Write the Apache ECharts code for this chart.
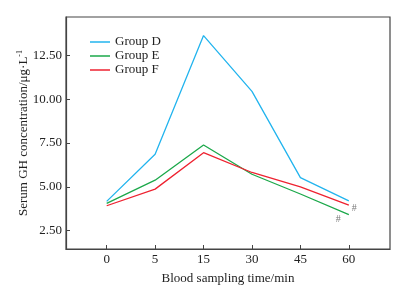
<!DOCTYPE html>
<html><head><meta charset="utf-8">
<script src="https://cdn.jsdelivr.net/npm/echarts@6/dist/echarts.min.js"></script>
<style>html,body{margin:0;padding:0;background:#fff}#c{width:411px;height:290px}</style>
</head><body><div id="c"></div>
<script>
const categories = ['0','5','15','30','45','60'];
const groupD = [4.17, 6.86, 13.64, 10.45, 5.53, 4.20];
const groupE = [4.06, 5.38, 7.39, 5.72, 4.59, 3.41];
const groupF = [3.92, 4.87, 6.95, 5.82, 5.00, 3.96];
const yTicks = [2.5, 5, 7.5, 10, 12.5];
const seriesNames = ['Group D', 'Group E', 'Group F'];
const colors = ['#22B4EE', '#1BA84A', '#EE2230'];

const font = 'Liberation Serif';
const toXY = arr => arr.map((v, i) => [i, v]);
const lastIdx = categories.length - 1;

const chart = echarts.init(document.getElementById('c'), null, {renderer: 'canvas'});
chart.setOption({
  animation: false,
  backgroundColor: '#fff',
  grid: {left: 66, right: 21, top: 17, bottom: 41, show: true, borderColor: '#444', borderWidth: 1.2, backgroundColor: 'transparent'},
  legend: {
    data: seriesNames,
    orient: 'vertical', left: 85, top: 30,
    icon: 'rect',
    itemWidth: 20, itemHeight: 1.5, itemGap: 0,
    textStyle: {fontFamily: font, fontSize: 13, color: '#222', lineHeight: 14}
  },
  xAxis: {
    type: 'value', min: -0.84, max: 5.85,
    splitLine: {show: false},
    axisLine: {onZero: false, lineStyle: {color: '#444', width: 1.2}},
    axisTick: {inside: true, length: 4, customValues: categories.map((c, i) => i), lineStyle: {color: '#444'}},
    axisLabel: {customValues: categories.map((c, i) => i), formatter: v => categories[Math.round(v)] ?? '', margin: 4,
      fontFamily: font, fontSize: 13, color: '#222'},
    name: 'Blood sampling time/min', nameLocation: 'middle', nameGap: 23, nameMoveOverlap: false,
    nameTextStyle: {fontFamily: font, fontSize: 13, color: '#222'}
  },
  yAxis: {
    type: 'value', min: 1.45, max: 14.7,
    splitLine: {show: false},
    axisLine: {show: true, onZero: false, lineStyle: {color: '#444', width: 1.2}},
    axisTick: {show: true, inside: true, length: 4, customValues: yTicks, lineStyle: {color: '#444'}},
    axisLabel: {customValues: yTicks, formatter: v => v.toFixed(2), margin: 4,
      fontFamily: font, fontSize: 13, color: '#222'},
    name: 'Serum GH concentration/μg·L{sup|-1}', nameLocation: 'middle', nameGap: 34, nameMoveOverlap: false,
    nameTextStyle: {fontFamily: font, fontSize: 13, color: '#222',
      rich: {sup: {fontFamily: font, fontSize: 8, color: '#222', verticalAlign: 'top', padding: [0,0,8,0]}}}
  },
  series: [
    {name: seriesNames[0], type: 'line', data: toXY(groupD), symbol: 'none', color: colors[0], lineStyle: {width: 1.3, color: colors[0]}},
    {name: seriesNames[1], type: 'line', data: toXY(groupE), symbol: 'none', color: colors[1], lineStyle: {width: 1.3, color: colors[1]}},
    {name: seriesNames[2], type: 'line', data: toXY(groupF), symbol: 'none', color: colors[2], lineStyle: {width: 1.3, color: colors[2]}},
    {type: 'scatter', symbolSize: 0, silent: true,
      data: [
        {value: [lastIdx, groupE[lastIdx]], label: {show: true, formatter: '#', position: [-13, 0]}},
        {value: [lastIdx, groupF[lastIdx]], label: {show: true, formatter: '#', position: [3, -2]}}
      ],
      label: {fontFamily: font, fontSize: 10, color: '#555'}
    }
  ]
});
</script></body></html>
